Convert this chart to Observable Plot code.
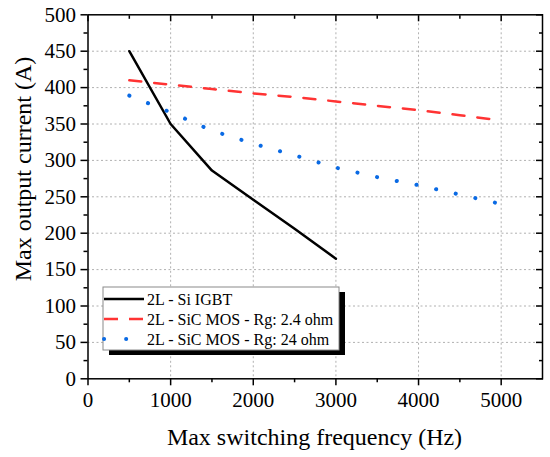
<!DOCTYPE html>
<html><head><meta charset="utf-8">
<script src="https://cdn.jsdelivr.net/npm/d3@7"></script>
<script src="https://cdn.jsdelivr.net/npm/@observablehq/plot@0.6"></script>
<style>body{margin:0;background:#fff}</style>
</head><body><div id="chart"></div>
<script>
// ---- data ----
const seriesNames = ["2L - Si IGBT", "2L - SiC MOS - Rg: 2.4 ohm", "2L - SiC MOS - Rg: 24 ohm"];
const igbtFreq = [500, 1000, 1500, 2000, 2500, 3000];
const igbtCurrent = [450, 350, 286, 246, 206, 165];
const sicFreq = [500, 1000, 1500, 2000, 2500, 3000, 3500, 4000, 4500, 5000];
const sic24Current = [410, 404, 398, 392, 387, 381, 375, 369, 362, 355];
const sic240Current = [389, 366, 341, 323, 307, 290, 277, 266, 253, 240];
const xTicks = [0, 1000, 2000, 3000, 4000, 5000];
const xMinor = [500, 1500, 2500, 3500, 4500];
const yTicks = [0, 50, 100, 150, 200, 250, 300, 350, 400, 450, 500];
const yMinor = [25, 75, 125, 175, 225, 275, 325, 375, 425, 475];
const xTitle = "Max switching frequency (Hz)";
const yTitle = "Max output current (A)";
const colors = ["#000000", "#ff3333", "#0a6ae4"];

const igbt = igbtFreq.map((f, i) => ({f, v: igbtCurrent[i]}));
const sicA = sicFreq.map((f, i) => ({f, v: sic24Current[i]}));
const sicB = sicFreq.map((f, i) => ({f, v: sic240Current[i]}));

const font = "Liberation Serif, Times New Roman, serif";
const gridStyle = {stroke: "#b0b0b0", strokeOpacity: 1, strokeDasharray: "2,2.5", strokeWidth: 1};
const blank = () => "";
const fmt = d3.format("d");

const plot = Plot.plot({
  width: 550, height: 457,
  marginLeft: 87.5, marginRight: 8, marginTop: 14.3, marginBottom: 78.7,
  style: {fontFamily: font, fontSize: "21px", color: "#000", background: "#fff"},
  x: {domain: [0, 5500]},
  y: {domain: [0, 500]},
  marks: [
    Plot.gridX(xTicks.slice(1), gridStyle),
    Plot.gridY(yTicks.slice(1, -1), gridStyle),
    Plot.line(igbt, {x: "f", y: "v", stroke: colors[0], strokeWidth: 2.5}),
    Plot.line(sicA, {x: "f", y: "v", stroke: colors[1], strokeWidth: 2.5, strokeDasharray: "12,13"}),
    Plot.line(sicB, {x: "f", y: "v", stroke: colors[2], strokeWidth: 4, strokeDasharray: "0.1,20", strokeLinecap: "round"}),
    Plot.frame({stroke: "#000", strokeWidth: 1.5}),
    Plot.axisX(xTicks, {tickSize: 7, tickPadding: 6, fontSize: 21, fontFamily: font, tickFormat: fmt, label: null, strokeWidth: 1.5}),
    Plot.axisX(xMinor, {tickSize: 4, tickFormat: blank, label: null, strokeWidth: 1.5}),
    Plot.axisX(xTicks, {anchor: "top", tickSize: -6, tickFormat: blank, label: null, strokeWidth: 1.5}),
    Plot.axisX(xMinor, {anchor: "top", tickSize: -3.5, tickFormat: blank, label: null, strokeWidth: 1.5}),
    Plot.axisY(yTicks, {tickSize: 7, tickPadding: 5, fontSize: 21, fontFamily: font, tickFormat: fmt, label: null, strokeWidth: 1.5}),
    Plot.axisY(yMinor, {tickSize: 4, tickFormat: blank, label: null, strokeWidth: 1.5}),
    Plot.axisY(yTicks, {anchor: "right", tickSize: -7, tickFormat: blank, label: null, strokeWidth: 1.5}),
    Plot.axisY(yMinor, {anchor: "right", tickSize: -4, tickFormat: blank, label: null, strokeWidth: 1.5})
  ]
});

const svg = d3.select(plot);
// ---- axis titles ----
svg.append("text").attr("x", 314.5).attr("y", 445).attr("text-anchor", "middle")
  .attr("font-family", font).attr("font-size", 24).attr("fill", "#000").text(xTitle);
svg.append("text").attr("transform", "translate(31,169) rotate(-90)").attr("text-anchor", "middle")
  .attr("font-family", font).attr("font-size", 24).attr("fill", "#000").text(yTitle);

// ---- legend ----
const lg = svg.append("g").attr("font-family", font).attr("font-size", 16).attr("text-anchor", "start");
const bx = 103, by = 287, bw = 236, bh = 63;
lg.append("rect").attr("x", bx + 6).attr("y", by + 5).attr("width", bw).attr("height", bh).attr("fill", "#000");
lg.append("rect").attr("x", bx).attr("y", by).attr("width", bw).attr("height", bh).attr("fill", "#fff").attr("stroke", "#8a8a8a").attr("stroke-width", 1);
const dashes = [null, "14,11", "0.1,22"];
const widths = [2.5, 2.5, 4];
seriesNames.forEach((name, i) => {
  const y = by + 12 + i * 20;
  lg.append("line").attr("x1", bx + 1).attr("x2", bx + 41).attr("y1", y).attr("y2", y)
    .attr("stroke", colors[i]).attr("stroke-width", widths[i])
    .attr("stroke-dasharray", dashes[i]).attr("stroke-linecap", i === 2 ? "round" : "butt");
  lg.append("text").attr("x", bx + 44).attr("y", y).attr("dy", "0.35em").attr("fill", "#000").text(name);
});

document.getElementById("chart").appendChild(plot);
</script>
</body></html>
